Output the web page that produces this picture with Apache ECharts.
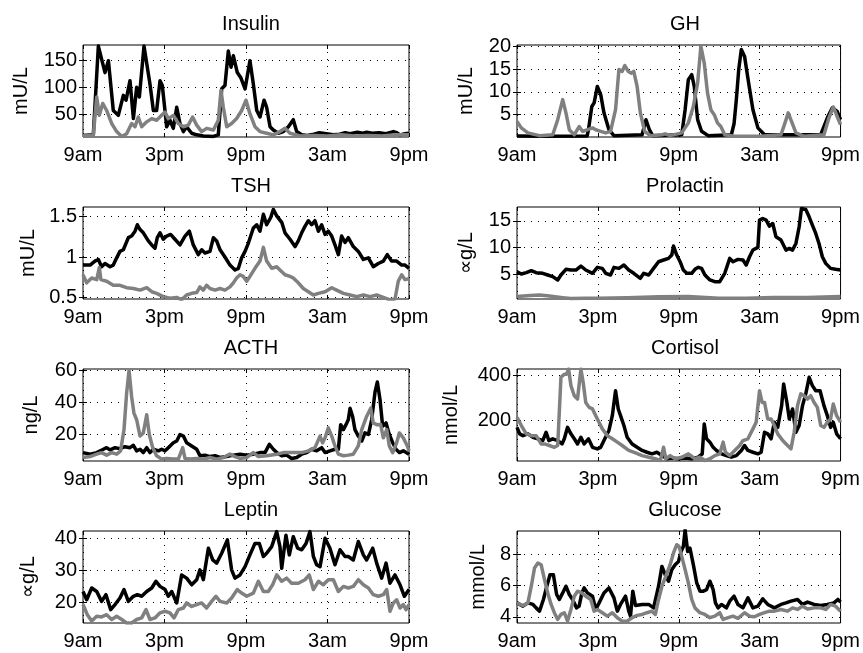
<!DOCTYPE html>
<html><head><meta charset="utf-8">
<script src="https://cdn.jsdelivr.net/npm/echarts@6/dist/echarts.min.js"></script>
<style>html,body{margin:0;padding:0;background:#fff}#c{width:863px;height:653px}</style>
</head><body><div id="c"></div>
<script>
// ---- data (hours since 9am, value) ----
const xTickLabels = ['9am','3pm','9pm','3am','9pm'];
const panelTitles = ['Insulin','GH','TSH','Prolactin','ACTH','Cortisol','Leptin','Glucose'];
const panelUnits = ['mU/L','mU/L','mU/L','∝g/L','ng/L','nmol/L','∝g/L','mmol/L'];
const yTickValues = [[50,100,150],[5,10,15,20],[0.5,1,1.5],[5,10,15],[20,40,60],[200,400],[20,30,40],[4,6,8]];
const yRanges = [[8,178],[0.1,20.3],[0.48,1.62],[0.3,17.6],[3,61],[20,430],[13.4,42.3],[3.6,9.5]];

const insulinBlack = [[0,11],[0.76,12],[1.13,176],[1.62,127],[1.87,149],[2.23,57],[2.6,48],[2.97,85],[3.17,76],[3.46,112],[3.71,42],[3.95,100],[4.15,82],[4.49,176],[4.93,106],[5.18,57],[5.42,57],[5.67,112],[5.84,103],[6.16,27],[6.4,39],[6.65,24],[6.9,63],[7.14,33],[7.39,18],[7.63,27],[8.0,15],[8.37,12],[8.86,10],[9.6,9],[9.96,12],[10.21,97],[10.45,103],[10.7,167],[10.9,137],[11.07,158],[11.36,127],[11.61,118],[11.93,97],[12.29,149],[12.54,106],[12.79,57],[13.03,45],[13.33,76],[13.52,63],[13.77,27],[14.01,21],[14.38,15],[14.75,18],[15.12,27],[15.48,40],[15.73,18],[16.1,12],[16.5,11],[17,13],[17.4,16],[17.9,14],[18.43,12],[18.9,13],[19.3,16],[19.66,14],[20.2,17],[20.6,15],[20.88,17],[21.3,15],[21.8,16],[22.3,14],[22.85,18],[23.1,16],[23.34,12],[23.7,14],[24,15]];
const insulinGray = [[0,11],[0.76,11],[1.01,82],[1.2,48],[1.45,70],[1.74,57],[2.11,33],[2.48,18],[2.85,9],[3.21,14],[3.58,33],[3.83,27],[4.07,45],[4.32,27],[4.69,36],[5.06,42],[5.42,39],[5.79,48],[6.04,54],[6.28,42],[6.65,48],[7.02,33],[7.39,27],[7.75,30],[8.07,45],[8.37,30],[8.74,18],[9.1,24],[9.6,21],[9.96,39],[10.16,94],[10.33,63],[10.58,27],[10.94,33],[11.31,42],[11.68,57],[12.0,76],[12.29,51],[12.66,27],[13.03,18],[13.52,15],[14.01,12],[14.5,18],[14.87,24],[15.24,15],[15.98,10],[17,11],[18,10],[19,12],[20,10],[21,11],[22,10],[23,12],[24,12]];

const ghBlack = [[0,0.3],[2,0.25],[5.2,0.3],[5.3,1.7],[5.55,6.8],[5.72,7.6],[5.96,11.2],[6.21,9.4],[6.45,5.4],[6.82,1.7],[7.19,0.4],[9.28,0.6],[9.57,3.9],[9.82,1.7],[10.06,0.4],[12.22,0.6],[12.47,6.1],[12.71,12.7],[12.96,13.8],[13.15,11.2],[13.4,3.9],[13.69,1.35],[14.18,0.4],[15.9,0.6],[16.1,3],[16.27,8.3],[16.45,15],[16.64,19.3],[16.88,17.8],[17.18,12],[17.5,6.1],[17.87,2.1],[18.36,0.6],[22.53,0.6],[23.02,4.3],[23.39,6.5],[23.75,5.7],[24,3.9]];
const ghGray = [[0,3.5],[0.32,2.1],[0.81,1.0],[1.67,0.4],[2.65,0.6],[3.02,3.9],[3.39,8.3],[3.63,5.4],[3.88,1.7],[4.25,0.6],[4.61,2.4],[4.86,1.35],[5.23,1.7],[5.6,2.1],[5.84,1.7],[6.21,1.35],[6.58,1.0],[6.94,1.35],[7.31,6.1],[7.56,14.9],[7.8,14.5],[8.0,15.8],[8.25,14.5],[8.49,14.1],[8.66,14.5],[8.91,11.2],[9.15,5.4],[9.47,1.35],[9.89,0.4],[10.75,0.6],[10.99,0.8],[11.36,0.4],[12.22,1.0],[12.71,3.2],[13.08,6.8],[13.4,12],[13.64,20],[13.89,16.3],[14.13,9.8],[14.38,6.1],[14.63,5],[14.87,3.2],[15.12,2.4],[15.41,0.6],[16.15,0.25],[18.11,0.25],[19.58,0.6],[19.88,3.2],[20.12,5.4],[20.37,3.5],[20.69,1.0],[21.3,0.25],[22.77,0.6],[23.14,4.3],[23.46,6.7],[23.75,4.6],[24,2.8]];

const tshBlack = [[0,0.9],[0.52,0.9],[0.88,0.95],[1.13,0.97],[1.37,0.88],[1.62,0.92],[1.99,0.88],[2.23,0.9],[2.48,0.99],[2.72,1.07],[2.97,1.09],[3.34,1.24],[3.58,1.26],[3.83,1.32],[4.0,1.4],[4.2,1.34],[4.44,1.3],[4.81,1.2],[5.06,1.15],[5.3,1.11],[5.47,1.24],[5.67,1.3],[5.91,1.22],[6.16,1.26],[6.45,1.28],[6.77,1.22],[7.14,1.15],[7.51,1.26],[7.83,1.32],[8.12,1.15],[8.49,1.03],[8.74,1.09],[8.98,1.05],[9.35,1.07],[9.6,1.24],[9.84,1.2],[10.09,1.09],[10.45,1.0],[10.82,0.9],[11.19,0.84],[11.44,0.86],[11.68,0.99],[11.93,1.07],[12.17,1.17],[12.54,1.36],[12.79,1.4],[13.03,1.32],[13.28,1.53],[13.52,1.4],[13.82,1.49],[14.01,1.59],[14.26,1.51],[14.63,1.43],[14.87,1.3],[15.24,1.22],[15.61,1.13],[15.85,1.2],[16.1,1.3],[16.34,1.38],[16.59,1.45],[16.83,1.4],[17.08,1.45],[17.33,1.32],[17.57,1.4],[17.82,1.28],[18.06,1.32],[18.31,1.26],[18.55,1.15],[18.8,1.03],[19.04,1.26],[19.29,1.18],[19.53,1.24],[19.9,1.13],[20.27,1.07],[20.64,0.97],[21.01,0.99],[21.37,0.88],[21.74,0.92],[22.11,0.95],[22.4,1.03],[22.72,0.95],[23.09,0.95],[23.46,0.9],[23.71,0.9],[24,0.86]];
const tshGray = [[0,0.78],[0.27,0.68],[0.64,0.74],[1.01,0.72],[1.2,0.87],[1.32,0.72],[1.74,0.7],[2.23,0.65],[2.72,0.65],[3.21,0.62],[3.71,0.61],[4.2,0.59],[4.69,0.62],[5.06,0.57],[5.42,0.55],[5.91,0.51],[6.4,0.49],[6.9,0.5],[7.26,0.47],[7.63,0.53],[8.0,0.55],[8.37,0.56],[8.61,0.63],[8.86,0.59],[9.1,0.65],[9.35,0.61],[9.72,0.59],[10.09,0.61],[10.45,0.59],[10.82,0.63],[11.07,0.68],[11.31,0.74],[11.56,0.78],[11.8,0.76],[12.05,0.7],[12.29,0.76],[12.66,0.86],[13.03,0.95],[13.28,1.12],[13.52,0.95],[13.89,0.86],[14.26,0.88],[14.5,0.84],[14.87,0.78],[15.24,0.76],[15.48,0.74],[15.85,0.68],[16.22,0.61],[16.59,0.57],[16.96,0.53],[17.33,0.55],[17.82,0.57],[18.31,0.62],[18.67,0.59],[19.17,0.55],[19.66,0.53],[20.15,0.51],[20.64,0.53],[21.13,0.51],[21.62,0.53],[22.11,0.5],[22.6,0.47],[22.97,0.48],[23.21,0.7],[23.46,0.78],[23.71,0.72],[24,0.73]];

const prolactinBlack = [[0,5.44],[0.32,5.0],[0.69,5.25],[1.06,5.63],[1.42,5.25],[1.91,5.13],[2.28,4.81],[2.65,4.5],[3.02,3.88],[3.26,4.81],[3.63,5.88],[4.0,5.75],[4.37,5.75],[4.74,6.5],[5.1,5.75],[5.6,5.13],[5.96,6.25],[6.33,6.06],[6.58,5.13],[6.94,4.81],[7.19,6.25],[7.56,6.06],[7.93,6.69],[8.29,5.75],[8.66,5.13],[9.15,4.19],[9.4,5.13],[9.77,4.81],[10.13,6.06],[10.5,7.31],[10.87,7.63],[11.24,7.94],[11.48,8.56],[11.61,10.25],[11.85,8.56],[12.1,7.31],[12.34,5.75],[12.59,5.13],[12.96,5.13],[13.2,5.88],[13.45,6.25],[13.69,6.06],[13.94,4.81],[14.31,3.88],[14.67,3.56],[15.04,3.56],[15.41,5.13],[15.78,7.94],[16.02,7.31],[16.39,7.75],[16.76,7.63],[17.0,6.69],[17.25,8.25],[17.5,9.5],[17.87,10],[17.99,15.13],[18.23,15.44],[18.48,15.13],[18.72,14.0],[18.97,14.5],[19.21,12.0],[19.58,11.38],[19.95,9.5],[20.2,9.81],[20.44,9.5],[20.69,10.75],[20.93,13.88],[21.1,17.31],[21.42,17.13],[21.67,15.75],[21.91,14.19],[22.16,12.63],[22.4,10.75],[22.65,8.25],[22.9,7.0],[23.26,6.06],[23.63,5.88],[24,5.75]];
const prolactinGray = [[0,0.75],[1.0,0.95],[1.67,1.06],[2.4,0.85],[3.4,0.55],[4.0,0.4],[5.0,0.42],[6.0,0.45],[8.2,0.55],[10.5,0.7],[12.7,0.75],[14.0,0.6],[15.0,0.44],[17.0,0.44],[19.0,0.56],[21.5,0.56],[24,0.75]];

const acthBlack = [[0,8.3],[0.52,7.3],[1.01,8.3],[1.5,10.4],[1.74,11.4],[1.99,10.0],[2.36,11.4],[2.72,10.8],[3.09,12.0],[3.46,11.4],[3.71,12.9],[3.95,9.4],[4.2,10.4],[4.44,8.3],[4.69,11.4],[4.93,8.3],[5.18,10.4],[5.55,9.4],[5.79,10.4],[6.04,9.4],[6.28,11.4],[6.65,14.5],[6.9,15.6],[7.14,19.7],[7.39,18.7],[7.63,14.5],[8.0,12.5],[8.37,10.4],[8.61,6.3],[8.98,6.7],[9.35,5.8],[9.72,6.3],[10.09,5.2],[10.58,5.8],[11.07,6.7],[11.56,7.3],[12.05,6.7],[12.54,7.3],[13.03,8.3],[13.4,8.3],[13.72,13.5],[14.01,10.4],[14.26,8.3],[14.63,6.3],[14.99,6.7],[15.36,4.6],[15.73,5.2],[16.1,7.3],[16.47,8.3],[16.83,10.4],[17.2,9.4],[17.57,11.4],[17.82,8.3],[18.18,9.4],[18.55,10.4],[18.8,10.4],[18.97,25.9],[19.17,22.8],[19.36,25.9],[19.53,29.0],[19.66,36.3],[19.85,31.1],[20.02,22.8],[20.27,18.7],[20.52,15.6],[20.76,20.7],[21.01,19.7],[21.25,29.0],[21.5,46.6],[21.67,52.8],[21.87,41.4],[22.06,24.9],[22.31,27.0],[22.55,19.7],[22.8,14.5],[23.04,10.4],[23.29,8.3],[23.58,9.4],[24,7.3]];
const acthGray = [[0,5.2],[0.52,5.8],[1.01,7.3],[1.37,8.3],[1.74,6.7],[2.11,8.3],[2.48,7.3],[2.77,9.4],[3.02,22.8],[3.21,45.6],[3.39,60.1],[3.58,43.5],[3.75,33.2],[3.95,29.0],[4.2,18.7],[4.44,20.7],[4.69,32.1],[4.88,19.7],[5.13,11.4],[5.42,6.3],[5.79,4.2],[6.16,4.6],[6.65,4.2],[7.02,4.2],[7.34,11.4],[7.51,4.6],[7.88,4.2],[8.37,4.6],[8.86,4.2],[9.35,5.2],[9.84,4.2],[10.33,5.2],[10.82,7.3],[11.19,5.8],[11.56,4.6],[12.05,5.2],[12.54,8.3],[12.91,5.8],[13.52,6.3],[14.26,7.3],[14.75,8.3],[15.48,8.3],[16.1,8.3],[16.59,9.4],[17.08,11.4],[17.45,18.7],[17.64,14.5],[17.82,17.6],[18.06,23.9],[18.31,18.7],[18.55,12.5],[18.8,7.3],[19.17,6.3],[19.53,6.7],[19.9,7.3],[20.27,12.5],[20.52,22.8],[20.88,31.1],[21.18,36.3],[21.37,27.0],[21.62,25.9],[21.91,26.0],[22.11,17.6],[22.36,22.8],[22.55,12.5],[22.8,8.3],[23.09,14.5],[23.29,20.7],[23.58,17.6],[23.88,12.5],[24,9.4]];

const cortisolBlack = [[0,170],[0.2,141],[0.44,133],[0.81,141],[1.18,126],[1.55,119],[1.91,111],[2.16,148],[2.36,111],[2.65,119],[3.02,111],[3.34,96],[3.51,119],[3.75,170],[4.0,141],[4.25,119],[4.49,96],[4.74,126],[4.98,96],[5.3,119],[5.6,81],[5.96,74],[6.21,81],[6.45,111],[6.82,156],[7.07,222],[7.31,333],[7.51,252],[7.68,222],[7.93,178],[8.17,126],[8.54,96],[8.91,81],[9.28,67],[9.64,59],[10.01,52],[10.38,59],[10.75,44],[11.12,30],[11.48,33],[11.98,30],[12.47,33],[12.96,30],[13.45,37],[13.74,52],[13.89,185],[14.06,119],[14.31,104],[14.55,81],[14.8,67],[15.17,52],[15.53,44],[15.9,37],[16.27,44],[16.64,67],[16.88,89],[17.13,67],[17.5,59],[17.87,52],[18.11,59],[18.36,148],[18.6,141],[18.85,119],[19.09,193],[19.34,170],[19.63,267],[19.78,363],[20.02,281],[20.2,207],[20.44,252],[20.69,148],[20.93,178],[21.18,267],[21.42,319],[21.67,393],[21.91,356],[22.16,333],[22.48,333],[22.77,267],[23.02,222],[23.26,170],[23.46,193],[23.71,141],[24,119]];
const cortisolGray = [[0,215],[0.32,178],[0.69,141],[1.06,133],[1.42,133],[1.79,96],[2.04,96],[2.4,89],[2.77,81],[3.02,89],[3.26,393],[3.51,407],[3.68,407],[3.83,430],[4.0,356],[4.25,311],[4.49,296],[4.74,430],[4.91,370],[5.1,281],[5.35,259],[5.6,252],[5.96,207],[6.33,163],[6.7,133],[7.07,119],[7.44,104],[7.8,89],[8.29,67],[8.79,56],[9.28,44],[9.77,37],[10.26,30],[10.63,22],[10.87,81],[11.04,30],[11.36,44],[11.73,30],[12.22,37],[12.71,52],[13.2,30],[13.57,37],[13.94,22],[14.31,30],[14.67,44],[15.04,52],[15.29,104],[15.46,59],[15.78,44],[16.15,67],[16.52,89],[16.76,111],[17.13,119],[17.5,163],[17.74,193],[17.99,333],[18.18,281],[18.36,281],[18.6,207],[18.85,207],[19.09,178],[19.34,141],[19.71,111],[20.07,89],[20.32,74],[20.56,148],[20.81,267],[21.05,319],[21.3,311],[21.55,296],[21.79,311],[22.04,281],[22.28,259],[22.53,178],[22.77,170],[23.02,193],[23.26,207],[23.46,274],[23.71,222],[24,193]];

const leptinBlack = [[0,23.3],[0.27,20.7],[0.64,24.4],[1.01,23.3],[1.37,20.2],[1.69,22.3],[2.04,17.6],[2.36,19.2],[2.72,21.25],[3.02,23.9],[3.34,20.2],[3.71,21.8],[4.0,22.3],[4.32,21.8],[4.69,23.3],[5.06,24.4],[5.37,26.5],[5.67,24.9],[6.04,23.9],[6.28,21.8],[6.53,23.3],[6.9,19.7],[7.26,28.5],[7.63,27.5],[8.0,25.4],[8.37,27.0],[8.61,30.1],[8.86,27.0],[9.23,36.9],[9.55,33.2],[9.84,32.2],[10.21,35.3],[10.63,39.5],[10.94,30.1],[11.19,27.5],[11.56,28.5],[11.93,31.1],[12.29,34.8],[12.66,38.4],[12.98,38.4],[13.28,34.3],[13.52,35.3],[13.89,37.4],[14.26,42.1],[14.5,37.4],[14.63,30.6],[14.94,41.0],[15.19,34.8],[15.48,40.5],[15.8,36.9],[16.1,36.4],[16.42,38.4],[16.71,42.1],[16.96,34.3],[17.2,31.7],[17.45,31.1],[17.82,40.0],[18.18,36.9],[18.55,31.7],[18.92,36.4],[19.29,34.3],[19.53,34.3],[19.9,33.2],[20.27,39.0],[20.64,34.8],[20.88,33.2],[21.33,36.9],[21.62,32.2],[21.99,27.5],[22.31,32.2],[22.6,25.9],[22.97,28.5],[23.34,25.4],[23.66,21.8],[24,23.9]];
const leptinGray = [[0,19.2],[0.32,16.0],[0.64,14.0],[1.01,15.5],[1.37,15.3],[1.74,16.0],[2.11,14.5],[2.48,15.5],[2.85,14.5],[3.21,13.4],[3.58,13.4],[3.95,14.5],[4.32,15.0],[4.64,17.6],[4.93,14.5],[5.3,15.0],[5.67,16.6],[6.04,17.1],[6.4,16.6],[6.7,15.0],[7.02,17.6],[7.39,18.1],[7.63,19.7],[8.0,18.6],[8.37,19.2],[8.74,19.7],[9.1,18.1],[9.47,20.2],[9.79,21.8],[10.09,20.2],[10.58,19.7],[10.94,21.25],[11.36,23.9],[11.68,22.8],[12.05,21.8],[12.54,22.8],[12.91,26.5],[13.28,23.3],[13.64,23.3],[13.96,25.4],[14.26,28.5],[14.63,26.5],[14.99,27.5],[15.36,25.9],[15.85,25.9],[16.34,27.0],[16.66,28.5],[16.96,23.9],[17.33,26.5],[17.69,25.4],[18.06,27.0],[18.43,27.0],[18.8,23.3],[19.17,24.9],[19.53,24.4],[19.9,24.9],[20.27,27.0],[20.64,25.4],[21.01,24.4],[21.37,22.3],[21.74,21.8],[22.11,22.3],[22.36,23.9],[22.6,17.1],[22.85,19.7],[23.09,20.7],[23.34,18.1],[23.58,19.2],[23.78,17.6],[24,19.2]];

const glucoseBlack = [[0,4.89],[0.44,4.68],[0.81,4.89],[1.18,4.79],[1.42,4.57],[1.67,4.36],[1.96,5.11],[2.21,5.96],[2.45,6.7],[2.7,6.7],[2.94,5.43],[3.14,5.11],[3.39,5.53],[3.63,5.96],[3.88,5.43],[4.12,5.11],[4.42,4.57],[4.61,4.68],[4.81,5.53],[4.98,5.85],[5.23,5.53],[5.6,5.32],[5.84,4.47],[6.09,4.89],[6.45,5.53],[6.82,5.85],[7.19,5.21],[7.44,4.36],[7.68,4.79],[8.05,5.32],[8.29,4.36],[8.42,4.04],[8.59,5.64],[8.79,4.72],[9.28,4.79],[9.77,4.79],[10.13,4.57],[10.5,5.96],[10.75,7.23],[10.99,6.7],[11.24,6.28],[11.48,7.02],[11.73,7.34],[11.98,7.55],[12.17,8.19],[12.34,8.51],[12.47,9.57],[12.66,8.19],[12.83,8.4],[13.08,7.34],[13.33,6.17],[13.57,5.64],[13.82,5.64],[14.06,5.74],[14.31,6.28],[14.55,5.74],[14.72,4.89],[14.92,4.57],[15.17,4.79],[15.53,4.57],[15.78,5.0],[16.1,5.32],[16.39,4.79],[16.76,4.57],[17.13,5.21],[17.5,4.57],[17.87,4.68],[18.23,5.15],[18.6,4.79],[19.09,4.57],[19.58,4.79],[19.95,4.89],[20.32,5.0],[20.81,5.11],[21.18,4.79],[21.55,4.94],[22.04,4.79],[22.53,4.72],[23.02,4.79],[23.51,4.89],[23.8,5.11],[24,4.94]];
const glucoseGray = [[0,4.89],[0.44,4.72],[0.81,4.89],[1.06,5.96],[1.3,7.13],[1.55,7.45],[1.79,7.34],[2.04,6.38],[2.28,5.53],[2.53,4.79],[2.77,4.26],[3.02,3.83],[3.26,4.15],[3.51,4.26],[3.75,3.72],[4.0,4.47],[4.25,5.32],[4.49,5.64],[4.81,5.53],[5.1,5.32],[5.47,5.11],[5.72,4.36],[5.96,4.47],[6.33,4.26],[6.7,4.04],[7.07,4.26],[7.44,3.94],[7.8,3.72],[8.17,3.72],[8.54,3.94],[8.91,4.09],[9.28,4.15],[9.64,4.26],[10.01,4.36],[10.26,4.15],[10.5,5.11],[10.75,5.96],[11.04,6.6],[11.36,7.34],[11.61,8.09],[11.85,8.62],[12.02,8.51],[12.22,7.87],[12.47,7.02],[12.71,6.17],[12.96,5.11],[13.2,4.57],[13.57,4.26],[13.94,4.15],[14.31,3.94],[14.67,4.04],[15.04,4.26],[15.29,3.83],[15.66,3.94],[16.02,4.04],[16.39,3.9],[16.88,4.26],[17.25,4.04],[17.62,4.0],[17.99,4.15],[18.36,4.26],[18.72,4.36],[19.09,4.36],[19.58,4.47],[20.07,4.36],[20.44,4.57],[20.81,4.47],[21.18,4.68],[21.55,4.5],[22.04,4.57],[22.53,4.57],[22.9,4.47],[23.26,4.79],[23.63,4.68],[24,4.36]];

const blackSeries = [insulinBlack, ghBlack, tshBlack, prolactinBlack, acthBlack, cortisolBlack, leptinBlack, glucoseBlack];
const graySeries = [insulinGray, ghGray, tshGray, prolactinGray, acthGray, cortisolGray, leptinGray, glucoseGray];

// ---- layout ----
const FONT = "'Liberation Sans', Arial, Helvetica, sans-serif";
const colLeft = [83, 517];
const rowTop = [45, 207, 369, 531];
const plotW = 326, plotH = 92;
const nameGaps = [52, 41, 45, 41, 42, 56, 45, 29];
const tickStyle = {show: true, inside: true, length: 4, lineStyle: {color: '#000'}};
const gridDots = {show: true, lineStyle: {color: '#000', width: 1, type: [1, 6]}};

const grids = [], xAxes = [], yAxes = [], series = [], titles = [];
for (let i = 0; i < 8; i++) {
  const c = i % 2, r = Math.floor(i / 2);
  grids.push({left: colLeft[c], top: rowTop[r], width: plotW, height: plotH,
    show: true, borderColor: '#000', borderWidth: 1, backgroundColor: '#fff'});
  xAxes.push({type: 'value', gridIndex: i, min: 0, max: 24, interval: 6, position: 'bottom',
    axisLine: {show: false}, axisTick: tickStyle,
    axisLabel: {color: '#000', fontFamily: FONT, fontSize: 20, margin: 8,
      formatter: v => xTickLabels[Math.round(v / 6)]},
    splitLine: gridDots});
  yAxes.push({type: 'value', gridIndex: i, min: yRanges[i][0], max: yRanges[i][1], position: 'left',
    name: panelUnits[i], nameLocation: 'middle', nameGap: nameGaps[i], nameRotate: 90,
    nameTextStyle: {color: '#000', fontFamily: FONT, fontSize: 20},
    axisLine: {show: false},
    axisTick: Object.assign({}, tickStyle, {customValues: yTickValues[i]}),
    axisLabel: {color: '#000', fontFamily: FONT, fontSize: 20, margin: 6, customValues: yTickValues[i]},
    splitLine: gridDots});
  series.push({type: 'line', xAxisIndex: i, yAxisIndex: i, data: blackSeries[i],
    showSymbol: false, clip: true, lineStyle: {color: '#000', width: 3.5, join: 'round'}});
  series.push({type: 'line', xAxisIndex: i, yAxisIndex: i, data: graySeries[i],
    showSymbol: false, clip: true, lineStyle: {color: '#808080', width: 3.5, join: 'round'}});
  titles.push({text: panelTitles[i], left: colLeft[c] + plotW / 2, top: rowTop[r] - 36,
    textAlign: 'center',
    textStyle: {color: '#000', fontFamily: FONT, fontSize: 20, fontWeight: 'normal'}});
}
// mirrored tick marks on top and right edges (box style)
for (let i = 0; i < 8; i++) {
  xAxes.push({type: 'value', gridIndex: i, min: 0, max: 24, interval: 6, position: 'top',
    axisLine: {show: false}, axisTick: tickStyle, axisLabel: {show: false}, splitLine: {show: false}});
  yAxes.push({type: 'value', gridIndex: i, min: yRanges[i][0], max: yRanges[i][1], position: 'right',
    axisLine: {show: false},
    axisTick: Object.assign({}, tickStyle, {customValues: yTickValues[i]}),
    axisLabel: {show: false}, splitLine: {show: false}});
}

const chart = echarts.init(document.getElementById('c'), null, {renderer: 'canvas'});
chart.setOption({animation: false, backgroundColor: '#fff', title: titles,
  grid: grids, xAxis: xAxes, yAxis: yAxes, series: series});
</script></body></html>
